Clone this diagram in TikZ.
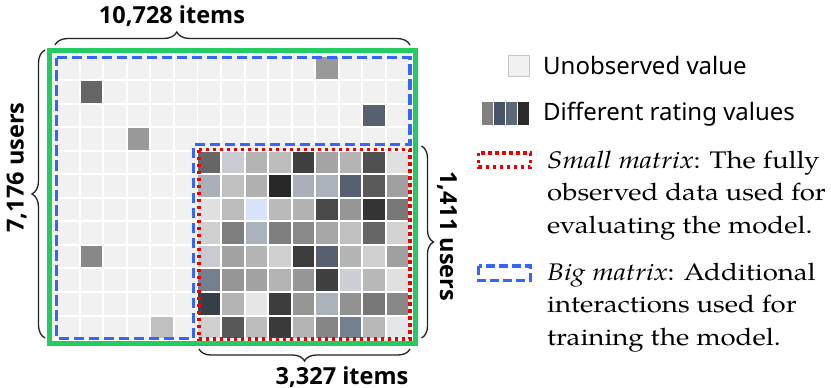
\documentclass[tikz,border=0pt]{standalone}
\usepackage{fontspec}
\setmainfont{TeX Gyre Pagella}[FakeStretch=1.15]
\newfontfamily\sansf{Noto Sans}
\newfontfamily\lblf{Open Sans}
\usetikzlibrary{decorations.pathreplacing}
\definecolor{unobs}{HTML}{F1F1F1}
\definecolor{gframe}{HTML}{22CC5E}
\definecolor{bigblue}{HTML}{3366FF}
\definecolor{smallred}{HTML}{EE0000}
\definecolor{bracec}{HTML}{222222}
\newcommand\mcell[3]{\edef\mtmp{#3}\definecolor{tmpc}{HTML}{\mtmp}\fill[tmpc] ({57.15+23.55*#2},{57.45+23.55*#1}) rectangle ++(21.6,21.6);}
\begin{document}
\begin{tikzpicture}[x=1pt,y=-1pt,
  brc/.style={decorate, decoration={brace, amplitude=13pt, #1}, line width=1.3pt, draw=bracec},
  brc/.default={aspect=0.5},
  bigm/.style={draw=bigblue, line width=3.3pt, dash pattern=on 10.5pt off 4.5pt},
  smallm/.style={draw=smallred, line width=3.3pt, dash pattern=on 3.3pt off 3.7pt},
  lbl/.style={font=\lblf\bfseries\fontsize{23.5}{26}\selectfont, inner sep=0pt},
  lgs/.style={font=\sansf\fontsize{24}{28}\selectfont, anchor=base west, inner sep=0pt},
  lgr/.style={font=\fontsize{24}{28}\selectfont, anchor=base west, inner sep=0pt}]
\useasboundingbox (0,0) rectangle (831,388);
% matrix background and grid gaps
\fill[unobs] (52.3,53.3) rectangle (408.5,338.1);
\foreach \k in {1,...,14} \fill[white] ({57.15+23.55*\k-1.95},53.3) rectangle ({57.15+23.55*\k},338.1);
\foreach \r in {1,...,11} \fill[white] (52.3,{57.45+23.55*\r-1.95}) rectangle (408.5,{57.45+23.55*\r});
% sparse observed cells
\mcell{0}{11}{999999}
\mcell{1}{1}{666666}
\mcell{2}{13}{56606E}
\mcell{3}{3}{999999}
\mcell{8}{1}{888888}
\mcell{11}{4}{C0C0C0}
% fully observed block
\foreach \r/\cols in {
  4/{666666,C8CCD2,B4B4B4,BCBCBC,404040,A4A4A4,B4B4B4,505050,E0E0E0},
  5/{AAB0B8,C0C0C0,B0B0B0,282828,AAB0BA,AAB2BC,566070,5A5A5A,A0A0A0},
  6/{E0E0E0,BCBCBC,D8E2F8,BABABA,B2B2B2,4A4A4A,969696,343434,787878},
  7/{D0D0D0,7E7E7E,AAB2BC,7E7E7E,8A8A8A,A6A6A6,C0C0C0,666666,D2D2D2},
  8/{C8CCD2,A2A2A2,B4B4B4,D0D0D0,3C3C3C,56606E,B4B4B4,D0D0D0,A0A0A0},
  9/{728090,969696,A2A2A2,B4B4B4,969696,404040,CCD0D6,B8B8B8,E0E0E0},
  10/{383E48,B4B4B4,E6E6E6,3C3C3C,969696,AAB2BC,929292,787878,888888},
  11/{D0D0D0,585858,BCBCBC,3A3A3A,B4B4B4,868686,728090,B8B8B8,E4E6EA}}
  {\foreach \h [count=\c from 6] in \cols {\mcell{\r}{\c}{\h}}}
% frames
\draw[draw=gframe, line width=5pt] (49.8,50.8) rectangle (415.5,343.9);
\draw[bigm] (56.7,57.7) -- (410,57.7) -- (410,144.5) -- (193.3,144.5) -- (193.3,338.5) -- (56.7,338.5) -- cycle;
\draw[smallm] (199,149.5) rectangle (410,339);
% braces
\coordinate (tl) at (55,45); \coordinate (tr) at (410,45);
\coordinate (lb) at (45,338); \coordinate (lt) at (45,50);
\coordinate (rt) at (421.5,146); \coordinate (rb) at (421.5,338);
\coordinate (br) at (410,349); \coordinate (bl) at (199,349);
\draw[brc={aspect=0.343}] (tl) -- (tr);
\draw[brc] (lb) -- (lt);
\draw[brc={amplitude=12pt}] (rt) -- (rb);
\draw[brc={amplitude=12pt}] (br) -- (bl);
\node[lbl, anchor=base] (ltop) at (172,23.3) {10,728 items};
\node[lbl, anchor=base] (lbot) at (342,384) {3,327 items};
\node[lbl, anchor=base, rotate=90] (lleft) at (23.5,167.5) {7,176 users};
\node[lbl, anchor=base, rotate=-90] (lright) at (440,236) {1,411 users};
% legend
\draw[fill=unobs, draw=black!22, line width=1.2pt] (508.5,55.5) rectangle (529.5,76.5);
\foreach \h [count=\i from 0] in {808080,46546A,5A6878,2A2A2A}
  {\edef\mtmp{\h}\definecolor{tmpc}{HTML}{\mtmp}\fill[tmpc] ({481.7+12*\i},101.7) rectangle ++(11,23.3);}
\draw[smallm] (478.5,153) rectangle (530.5,167);
\draw[bigm, dash pattern=on 9pt off 4pt] (478.5,266) rectangle (530.5,280.5);
\node[lgs] (t1) at (543,74) {Unobserved value};
\node[lgs] (t2) at (543,120) {Different rating values};
\node[lgr] (t3) at (547,168) {\textit{Small matrix}: The fully};
\node[lgr] (t4) at (547,200.5) {observed data used for};
\node[lgr] (t5) at (547,233) {evaluating the model.};
\node[lgr] (t6) at (547,280) {\textit{Big matrix}: Additional};
\node[lgr] (t7) at (547,312.5) {interactions used for};
\node[lgr] (t8) at (547,345) {training the model.};
\end{tikzpicture}
\end{document}
